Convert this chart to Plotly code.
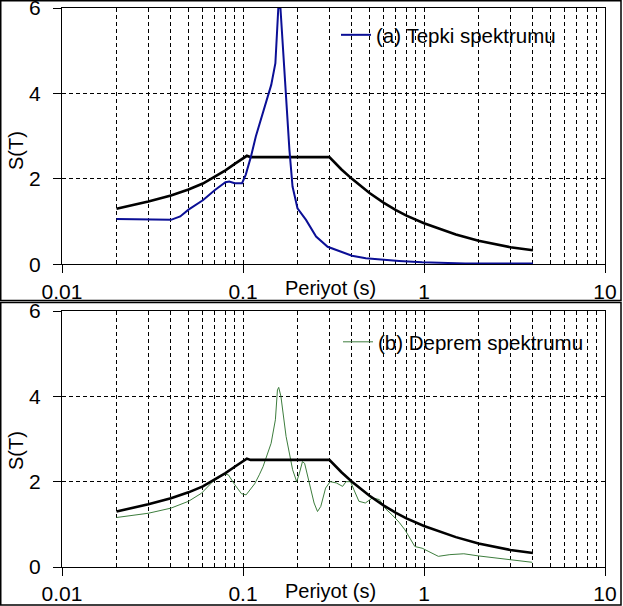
import plotly.graph_objects as go

# ---------------- data ----------------
design_T = [0.02, 0.03, 0.04, 0.05, 0.06, 0.07, 0.08, 0.09, 0.1, 0.105, 0.11, 0.2, 0.3,
            0.35, 0.4, 0.5, 0.6, 0.7, 0.8, 1.0, 1.5, 2.0, 2.5, 3.0, 4.0]
design_S = [1.30, 1.47, 1.61, 1.75, 1.89, 2.05, 2.20, 2.35, 2.49, 2.54, 2.51, 2.51, 2.51,
            2.22, 2.00, 1.67, 1.44, 1.27, 1.14, 0.96, 0.70, 0.55, 0.46, 0.40, 0.33]

tepki_T = [0.02, 0.025, 0.03, 0.04, 0.045, 0.05, 0.06, 0.07, 0.08, 0.084, 0.09, 0.0988,
           0.1036, 0.1106, 0.1177, 0.1288, 0.1432, 0.151, 0.154, 0.1567, 0.161, 0.1656,
           0.1729, 0.1805, 0.1878, 0.2, 0.2229, 0.2534, 0.2935, 0.3392, 0.3547, 0.4,
           0.477, 0.6, 0.728, 0.977, 1.3, 1.69, 2.5, 4.0]
tepki_S = [1.06, 1.05, 1.04, 1.04, 1.12, 1.28, 1.50, 1.74, 1.92, 1.94, 1.90, 1.90,
           2.10, 2.52, 2.99, 3.54, 4.20, 4.71, 5.41, 6.00, 6.00, 5.18,
           3.85, 2.68, 1.82, 1.31, 1.04, 0.65, 0.41, 0.32, 0.28, 0.20,
           0.14, 0.10, 0.08, 0.05, 0.03, 0.02, 0.02, 0.02]

deprem_T = [0.02, 0.03, 0.04, 0.05, 0.059, 0.068, 0.079, 0.083, 0.09, 0.098, 0.104,
            0.116, 0.123, 0.129, 0.143, 0.151, 0.155, 0.1575, 0.162, 0.173, 0.188,
            0.198, 0.205, 0.213, 0.219, 0.233, 0.247, 0.258, 0.269, 0.286, 0.303,
            0.328, 0.355, 0.371, 0.393, 0.41, 0.437, 0.474, 0.519, 0.567, 0.615,
            0.667, 0.728, 0.785, 0.89, 0.977, 1.2, 1.39, 1.66, 2.0, 2.93, 3.96]
deprem_S = [1.16, 1.26, 1.38, 1.54, 1.73, 2.00, 2.18, 2.16, 1.93, 1.72, 1.69,
            1.95, 2.16, 2.35, 2.90, 3.45, 4.15, 4.21, 4.00, 3.06, 2.28,
            2.00, 2.20, 2.47, 2.43, 1.97, 1.50, 1.30, 1.42, 1.85, 2.00,
            1.97, 1.89, 2.00, 2.00, 1.81, 1.54, 1.50, 1.62, 1.58, 1.36,
            1.22, 1.05, 0.87, 0.48, 0.44, 0.25, 0.29, 0.31, 0.26, 0.17, 0.11]

x_tickvals = [0.01, 0.1, 1, 10]
x_ticktext = ["0.01", "0.1", "1", "10"]
x_minorvals = [0.02, 0.03, 0.04, 0.05, 0.06, 0.07, 0.08, 0.09,
               0.2, 0.3, 0.4, 0.5, 0.6, 0.7, 0.8, 0.9,
               2, 3, 4, 5, 6, 7, 8, 9]
y_tickvals = [0, 2, 4, 6]

label_a = "(a) Tepki spektrumu"
label_b = "(b) Deprem spektrumu"
x_title = "Periyot (s)"
y_title = "S(T)"

FONT = "Liberation Sans, Arial, sans-serif"
BLUE = "#0b0f96"
GREEN = "#3d7d3d"

fig = go.Figure()
# top panel
fig.add_trace(go.Scatter(x=design_T, y=design_S, mode="lines", showlegend=False,
                         line=dict(color="black", width=2.6), xaxis="x", yaxis="y"))
fig.add_trace(go.Scatter(x=tepki_T, y=tepki_S, mode="lines", name=label_a,
                         line=dict(color=BLUE, width=2), xaxis="x", yaxis="y",
                         legend="legend"))
# bottom panel
fig.add_trace(go.Scatter(x=deprem_T, y=deprem_S, mode="lines", name=label_b,
                         line=dict(color=GREEN, width=1), xaxis="x2", yaxis="y2",
                         legend="legend2"))
fig.add_trace(go.Scatter(x=design_T, y=design_S, mode="lines", showlegend=False,
                         line=dict(color="black", width=2.6), xaxis="x2", yaxis="y2"))

DASH = "4px,3px"

def xax(anchor):
    return dict(type="log", range=[-2, 1], anchor=anchor, domain=[0, 1],
                automargin=False, ticklabeloverflow="allow",
                tickmode="array", tickvals=x_tickvals, ticktext=x_ticktext,
                ticks="outside", ticklen=8, tickcolor="black", tickwidth=1,
                showline=True, linecolor="black", linewidth=1, mirror=True,
                showgrid=True, gridcolor="black", gridwidth=1, griddash=DASH,
                minor=dict(tickmode="array", tickvals=x_minorvals, showgrid=True,
                           gridcolor="black", gridwidth=1, griddash=DASH, ticks=""),
                tickfont=dict(family=FONT, size=21, color="black"),
                ticklabelstandoff=0)

def yax(anchor, domain):
    return dict(range=[0, 6], anchor=anchor, domain=domain,
                automargin=False, ticklabeloverflow="allow",
                tickmode="array", tickvals=y_tickvals,
                ticks="outside", ticklen=8, tickcolor="black", tickwidth=1,
                showline=True, linecolor="black", linewidth=1, mirror=True,
                showgrid=True, gridcolor="black", gridwidth=1, griddash=DASH,
                zeroline=False,
                tickfont=dict(family=FONT, size=21, color="black"),
                ticklabelstandoff=8)

L, R, T, B = 62, 18, 8, 39
W, H = 623, 606
pw, ph = W - L - R, H - T - B

def px_x(xp):
    return (xp - L) / pw

def px_y(yp):
    return (H - B - yp) / ph

top_dom = [px_y(264.3), 1.0]
bot_dom = [0.0, px_y(311)]

fig.update_layout(
    template="none",
    width=W, height=H,
    margin=dict(l=L, r=R, t=T, b=B, autoexpand=False),
    paper_bgcolor="white", plot_bgcolor="white",
    font=dict(family=FONT, color="black"),
    xaxis=xax("y"), yaxis=yax("x", top_dom),
    xaxis2=xax("y2"), yaxis2=yax("x2", bot_dom),
    legend=dict(x=px_x(336), y=px_y(35), xanchor="left", yanchor="middle",
                bgcolor="rgba(255,255,255,0)", borderwidth=0,
                font=dict(family=FONT, size=20.5, color="black")),
    legend2=dict(x=px_x(338), y=px_y(342), xanchor="left", yanchor="middle",
                 bgcolor="rgba(255,255,255,0)", borderwidth=0,
                 font=dict(family=FONT, size=20.5, color="black")),
)

# axis titles as annotations
for ycen in (288, 591):
    fig.add_annotation(text=x_title, x=px_x(330), y=px_y(ycen), xref="paper", yref="paper",
                       showarrow=False, xanchor="center", yanchor="middle",
                       font=dict(family=FONT, size=20, color="black"))
for ycen in (151, 451):
    fig.add_annotation(text=y_title, x=px_x(16), y=px_y(ycen), xref="paper", yref="paper",
                       showarrow=False, xanchor="center", yanchor="middle", textangle=-90,
                       font=dict(family=FONT, size=20, color="black"))

# outer panel frames
fig.add_shape(type="rect", xref="paper", yref="paper",
              x0=px_x(0.75), x1=px_x(621), y0=px_y(0.75), y1=px_y(300.5),
              line=dict(color="black", width=1.5), layer="above")
fig.add_shape(type="rect", xref="paper", yref="paper",
              x0=px_x(0.75), x1=px_x(621), y0=px_y(302.5), y1=px_y(605),
              line=dict(color="black", width=1.5), layer="above")

fig.write_html("out.html",
               config={"displayModeBar": False},
               post_script="document.body.style.margin='0';document.body.style.padding='0';"
                           "document.documentElement.style.overflow='hidden';")
